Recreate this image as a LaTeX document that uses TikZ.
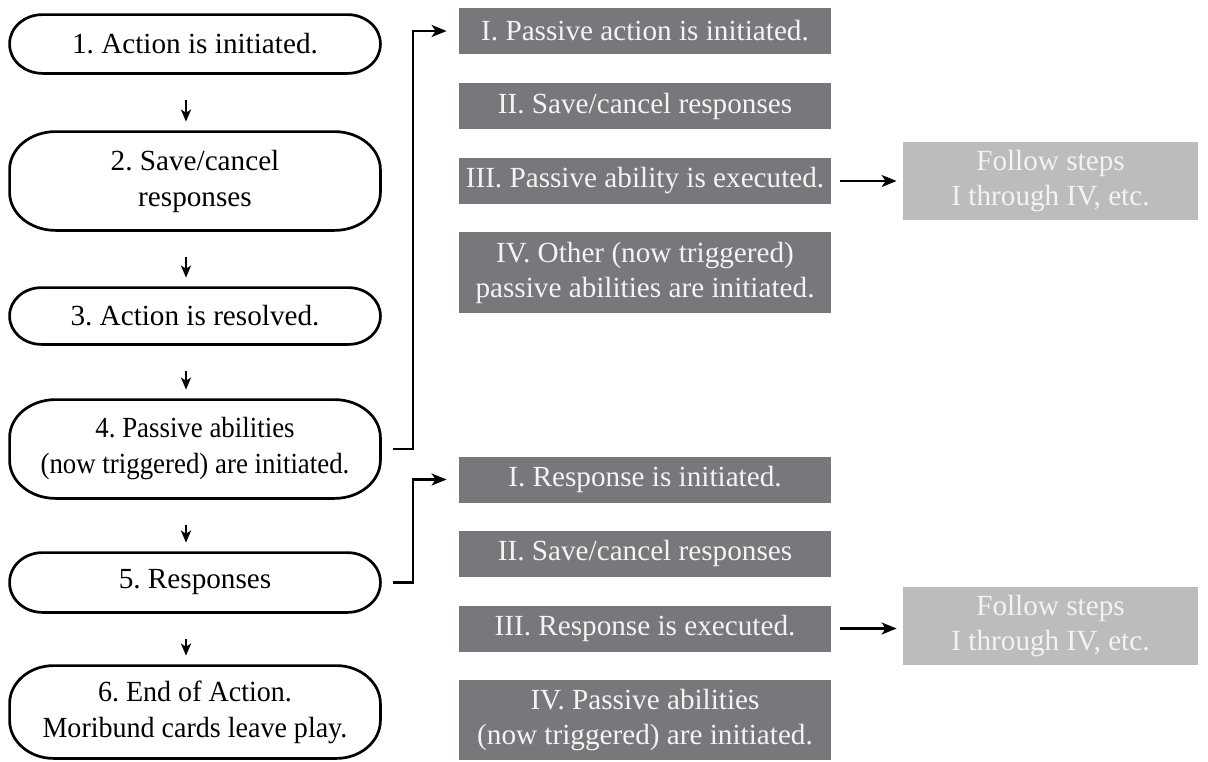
\documentclass[tikz,border=0pt]{standalone}
\usepackage{fontspec}
\setmainfont{Liberation Serif}
\newfontface\narrowserif[FakeStretch=0.92]{Liberation Serif}
\newfontface\snugserif[FakeStretch=0.96]{Liberation Serif}
\frenchspacing
\usetikzlibrary{arrows.meta}
\definecolor{subfill}{HTML}{77787B}
\definecolor{subtext}{HTML}{F4F4F4}
\definecolor{followfill}{HTML}{BCBCBC}
\definecolor{followtext}{HTML}{F3F3F3}
\newcommand\pillframe[3]{\draw[line width=1.35pt] ([xshift=#2]#1.north west) -- ([xshift=-#2]#1.north east)
  arc[start angle=90,end angle=0,x radius=#2,y radius=#3] -- ([yshift=#3]#1.south east)
  arc[start angle=0,end angle=-90,x radius=#2,y radius=#3] -- ([xshift=#2]#1.south west)
  arc[start angle=270,end angle=180,x radius=#2,y radius=#3] -- ([yshift=-#3]#1.north west)
  arc[start angle=180,end angle=90,x radius=#2,y radius=#3] -- cycle;}

\begin{document}
\begin{tikzpicture}[x=0.5pt,y=-0.5pt,
  stepbox/.style={minimum width=185pt,inner sep=0pt,align=center,font=\fontsize{14.6}{18}\selectfont},
  subbox/.style={fill=subfill,text=subtext,minimum width=186pt,minimum height=23pt,inner sep=0pt,align=center,font=\fontsize{14.6}{17.5}\selectfont},
  followbox/.style={fill=followfill,text=followtext,minimum width=147.5pt,minimum height=39pt,inner sep=0pt,align=center,font=\fontsize{14.6}{17.5}\selectfont},
  link/.style={line width=1.15pt,-{Stealth[length=7.5pt,width=6pt,inset=2pt]}},
  nextarrow/.style={line width=1.2pt,-{Stealth[length=6pt,width=5pt,inset=1.6pt]},shorten <=13.5pt,shorten >=5pt}]
\useasboundingbox (0,0) rectangle (1208,761);
% main sequence
\node[stepbox,minimum height=29pt] (s1) at (195,44) {1. Action is initiated.};
\node[stepbox,minimum height=49pt] (s2) at (195,181) {2. Save/cancel\\responses};
\node[stepbox,minimum height=28pt] (s3) at (195,316) {3. Action is resolved.};
\node[stepbox,minimum height=49pt,font=\narrowserif\fontsize{14.6}{18}\selectfont] (s4) at (195,449) {4. Passive abilities\\(now triggered) are initiated.};
\node[stepbox,minimum height=29.5pt] (s5) at (195,582.5) {5. Responses};
\node[stepbox,minimum height=46pt,font=\snugserif\fontsize{14.6}{18}\selectfont] (s6) at (195,712) {6. End of Action.\\Moribund cards leave play.};
\pillframe{s1}{16.5pt}{14.5pt}
\pillframe{s2}{23pt}{19pt}
\pillframe{s3}{16pt}{14pt}
\pillframe{s4}{23pt}{19pt}
\pillframe{s5}{16.5pt}{14.75pt}
\pillframe{s6}{22pt}{19pt}
\foreach \a/\b in {s1/s2,s2/s3,s3/s4,s4/s5,s5/s6} \draw[nextarrow] ([xshift=-4.5pt]\a.south) -- ([xshift=-4.5pt]\b.north);
% passive abilities
\node[subbox] (pa1) at (645,31) {I. Passive action is initiated.};
\node[subbox] (pa2) at (645,106) {II. Save/cancel responses};
\node[subbox] (pa3) at (645,181) {III. Passive ability is executed.};
\node[subbox,minimum height=40.5pt] (pa4) at (645,272.5) {IV. Other (now triggered)\\passive abilities are initiated.};
\node[followbox] (pf) at (1050.5,181) {Follow steps\\I through IV, etc.};
% responses
\node[subbox] (re1) at (645,479.5) {I. Response is initiated.};
\node[subbox] (re2) at (645,553.5) {II. Save/cancel responses};
\node[subbox] (re3) at (645,628.5) {III. Response is executed.};
\node[subbox,minimum height=40pt] (re4) at (645,720) {IV. Passive abilities\\(now triggered) are initiated.};
\node[followbox] (rf) at (1050.5,626) {Follow steps\\I through IV, etc.};
\coordinate (jog) at (413,0);
\draw[link,shorten <=6.5pt,shorten >=6pt] (s4.east) -- (s4.east -| jog) |- (pa1.west);
\draw[link,shorten <=6.5pt,shorten >=6pt] (s5.east) -- (s5.east -| jog) |- (re1.west);
\draw[link,shorten <=4.5pt,shorten >=3pt] (pa3.east) -- (pa3.east -| pf.west);
\draw[link,shorten <=4.5pt,shorten >=3pt] (re3.east) -- (re3.east -| rf.west);
\end{tikzpicture}
\end{document}
